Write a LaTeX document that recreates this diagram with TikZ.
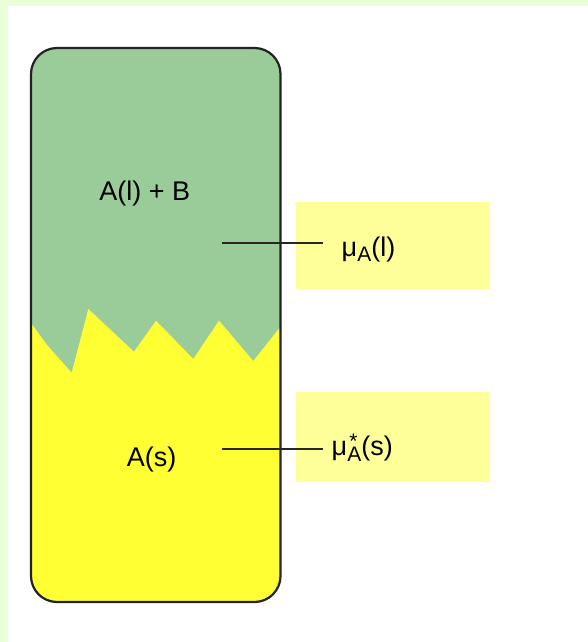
\documentclass[tikz,border=0pt]{standalone}
\usepackage{fontspec}
\setmainfont{Liberation Sans}
\definecolor{bgstrip}{HTML}{E8FFD8}
\definecolor{liqgreen}{HTML}{99CC99}
\definecolor{solyellow}{HTML}{FFFF33}
\definecolor{boxyellow}{HTML}{FFFF99}
\definecolor{outline}{HTML}{222222}
\tikzset{
  labelbox/.style={fill=boxyellow, draw=none, minimum width=194pt, inner sep=0pt},
  bigtext/.style={font=\fontsize{27}{30}\selectfont, inner sep=0pt},
  mutext/.style={font=\fontsize{27}{30}\selectfont, inner sep=0pt},
  leader/.style={draw=black!85, line width=2pt}
}
\newcommand{\subsz}{\fontsize{21}{23}\selectfont}
\begin{document}
\begin{tikzpicture}[x=1pt,y=-1pt]
\useasboundingbox (0,0) rectangle (588,642);
% background
\fill[bgstrip] (0,0) rectangle (588,642);
\fill[white] (8,6) rectangle (588,642);
% container
\def\container{(31,48) rectangle (280.5,602)}
\begin{scope}
  \path[clip, rounded corners=26pt] \container;
  \fill[liqgreen] (25,40) rectangle (290,610);
  \fill[solyellow] (25,323) -- (31,323) -- (47,345) -- (71.7,372.7) -- (88.3,309)
     -- (134,351.7) -- (156,320.7) -- (193.3,359) -- (219,320.7) -- (253.3,361)
     -- (280.5,326.7) -- (290,326.7) -- (290,610) -- (25,610) -- cycle;
\end{scope}
\draw[outline, line width=2.2pt, rounded corners=26pt] \container;
% labels inside
\node[bigtext, anchor=base] (liq) at (144.7,200) {A(l) + B};
\node[bigtext, anchor=base] (sol) at (151.7,466.5) {A(s)};
% yellow boxes
\node[labelbox, minimum height=87.3pt] (boxl) at (393,245.35) {};
\node[labelbox, minimum height=90pt] (boxs) at (393,436.7) {};
% mu texts
\node[mutext, anchor=base west] (mul) at (341.5,256.5)
  {μ\raisebox{-5pt}{\subsz A}(l)};
\node[mutext, anchor=base west] (mus) at (331.5,455.5)
  {μ\raisebox{-5.5pt}{\subsz\makebox[0pt][l]{\raisebox{13pt}{\hspace{2pt}*}}A}(s)};
% leaders
\coordinate (ls) at (222,243.3);
\coordinate (le) at (323,243.3);
\coordinate (ss) at (222,449);
\coordinate (se) at (323,449);
\draw[leader] (ls) -- (le);
\draw[leader] (ss) -- (se);
\end{tikzpicture}
\end{document}
